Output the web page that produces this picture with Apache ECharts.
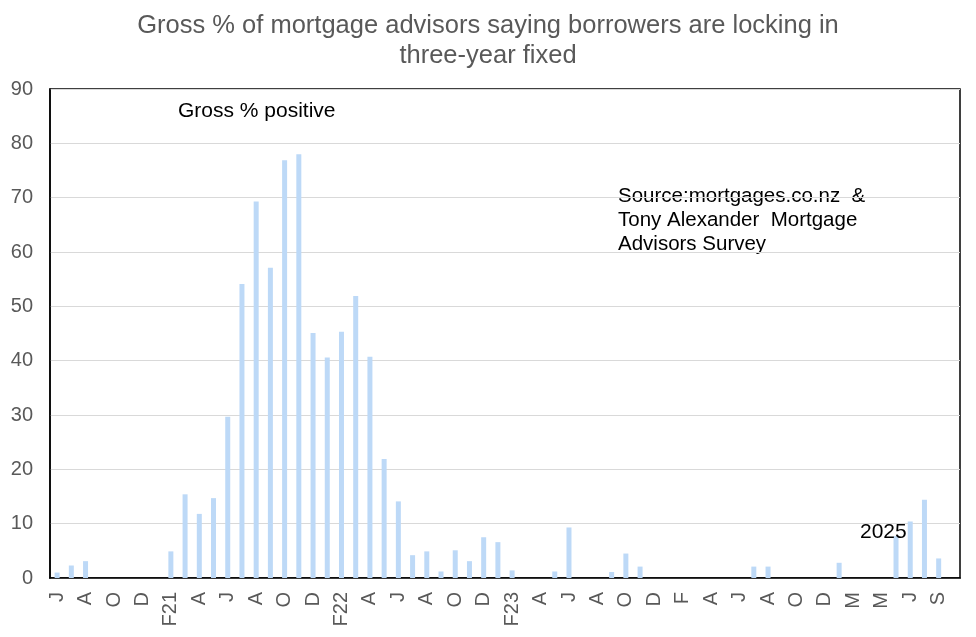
<!DOCTYPE html>
<html>
<head>
<meta charset="utf-8">
<script src="https://cdn.jsdelivr.net/npm/echarts@6/dist/echarts.min.js"></script>
<style>
html,body{margin:0;padding:0;background:#fff;}
#chart{width:976px;height:637px;}
</style>
</head>
<body>
<div id="chart"></div>
<script>
var months = ['Jun20','Jul20','Aug20','Sep20','Oct20','Nov20','Dec20','Jan21',
  'Feb21','Mar21','Apr21','May21','Jun21','Jul21','Aug21','Sep21','Oct21','Nov21','Dec21','Jan22',
  'Feb22','Mar22','Apr22','May22','Jun22','Jul22','Aug22','Sep22','Oct22','Nov22','Dec22','Jan23',
  'Feb23','Mar23','Apr23','May23','Jun23','Jul23','Aug23','Sep23','Oct23','Nov23','Dec23','Jan24',
  'Feb24','Mar24','Apr24','May24','Jun24','Jul24','Aug24','Sep24','Oct24','Nov24','Dec24','Jan25',
  'Feb25','Mar25','Apr25','May25','Jun25','Jul25','Aug25','Sep25'];
var tickLabels = ['J','A','O','D','F21','A','J','A','O','D','F22','A','J','A','O','D',
  'F23','A','J','A','O','D','F','A','J','A','O','D','M','M','J','S'];
var grossPositive = [1.0,2.3,3.1,0,0,0,0,0,
  4.9,15.4,11.8,14.7,29.7,54.1,69.3,57.1,76.9,78.0,45.1,40.6,
  45.3,51.9,40.7,21.9,14.1,4.2,4.9,1.2,5.1,3.1,7.5,6.6,
  1.4,0,0,1.2,9.3,0,0,1.1,4.5,2.1,0,0,
  0,0,0,0,0,2.1,2.1,0,0,0,0,2.8,
  0,0,0,7.7,10.4,14.4,3.6,null];

var chart = echarts.init(document.getElementById('chart'));
var font = '"Liberation Sans", Arial, sans-serif';
chart.setOption({
  animation: false,
  title: {
    text: 'Gross % of mortgage advisors saying borrowers are locking in\nthree-year fixed',
    left: 'center',
    top: 6,
    textStyle: {fontSize: 25.5, fontWeight: 'normal', color: '#595959', fontFamily: font, lineHeight: 30}
  },
  grid: {left: 50, right: 16, top: 89, bottom: 59, show: true, borderColor: '#000', borderWidth: 1.5, containLabel: false},
  xAxis: {
    type: 'category',
    data: months,
    axisLine: {show: true, lineStyle: {color: '#000', width: 1.5}},
    axisTick: {show: false},
    axisLabel: {
      interval: 0,
      rotate: 90,
      fontSize: 20,
      color: '#595959',
      fontFamily: font,
      margin: 14,
      formatter: function (v, i) { return i % 2 === 0 ? (tickLabels[i / 2] || '') : ''; }
    },
    splitLine: {show: false}
  },
  yAxis: {
    type: 'value',
    min: 0, max: 90, interval: 10,
    axisLine: {show: true, lineStyle: {color: '#000', width: 1.5}},
    axisTick: {show: false},
    axisLabel: {fontSize: 20, color: '#595959', fontFamily: font, margin: 17},
    splitLine: {lineStyle: {color: '#d9d9d9', width: 1}}
  },
  series: [{
    type: 'bar',
    data: grossPositive,
    barWidth: 5,
    itemStyle: {color: '#bdd9f7'}
  }],
  graphic: [
    {type: 'text', left: 178, top: 101, style: {text: 'Gross % positive', fontSize: 21, fill: '#000', fontFamily: font}},
    {type: 'text', left: 618, top: 184, style: {text: 'Source:mortgages.co.nz  &\nTony Alexander  Mortgage\nAdvisors Survey', fontSize: 20.5, fill: '#000', fontFamily: font, lineHeight: 24}},
    {type: 'text', left: 860, top: 522, z: 100, style: {text: '2025', fontSize: 21, fill: '#000', fontFamily: font}}
  ]
});
</script>
</body>
</html>
